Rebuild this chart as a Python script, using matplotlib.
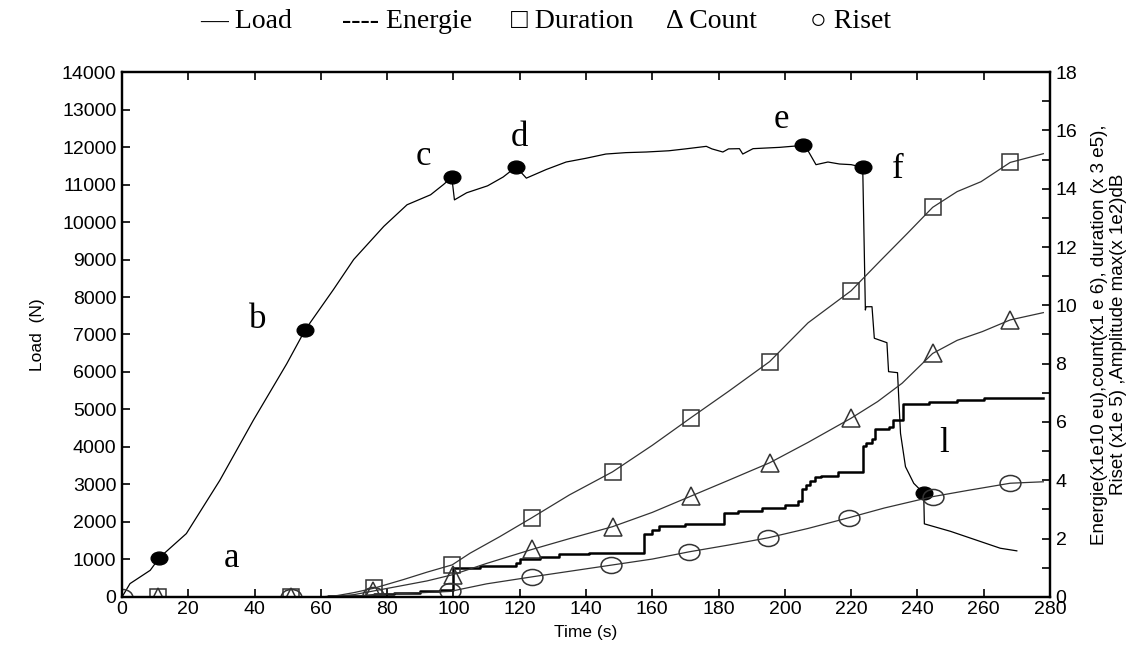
import numpy as np
import matplotlib
matplotlib.use("Agg")
import matplotlib.pyplot as plt
from matplotlib.path import Path
from matplotlib.transforms import Affine2D

# Load curve (N) vs time (s)
load_t = [0, 2.4, 8.5, 11.3, 19.4, 29.5, 39.6, 49.7, 55.3, 63.8, 69.9, 79, 86, 93.1, 97,
          99.5, 100.3, 104, 110.3, 115, 118.9, 122, 128, 134, 140, 146, 152, 158.2, 165,
          170, 176.3, 178, 181.3, 183, 186.3, 187.3, 190.4, 198.4, 205.6, 207, 209.4,
          213, 216.5, 220, 223.5, 224.3, 224.5, 226.3, 227, 230.8, 231.3, 234, 234.9,
          236.4, 238.9, 241.9, 242.1, 250, 260, 265, 270]
load_N = [0, 356, 711, 1050, 1690, 3110, 4710, 6220, 7130, 8200, 9000, 9885, 10460, 10726,
          11000, 11195, 10590, 10780, 10965, 11200, 11470, 11170, 11400, 11600, 11700,
          11813, 11850, 11867, 11900, 11950, 12018, 11950, 11867, 11950, 11956, 11813,
          11956, 11991, 12044, 11900, 11529, 11600, 11547, 11530, 11460, 7653, 7740,
          7741, 6900, 6782, 6009, 5982, 4365, 3475, 3031, 2765, 1950, 1750, 1450, 1300,
          1230]
load_marks = [11.3, 55.3, 99.5, 118.9, 205.6, 223.5, 241.9]

# Energie (x1e10 eu), step curve
en_t = [0, 62, 70, 76, 82, 90, 96, 100, 108, 119, 120.2, 126, 132, 141, 150, 157.5, 160,
        162, 170, 181.5, 186, 193, 200, 204, 205.2, 206.5, 207.7, 209, 211, 216, 223.7,
        224.5, 226.2, 227.2, 231.5, 232.5, 235.8, 243.5, 252, 260, 278]
en_v = [0, 0.02, 0.05, 0.1, 0.15, 0.2, 0.25, 1.0, 1.05, 1.18, 1.29, 1.38, 1.46, 1.5,
        1.51, 2.15, 2.3, 2.43, 2.5, 2.87, 2.95, 3.06, 3.15, 3.29, 3.69, 3.85, 3.98,
        4.1, 4.15, 4.3, 5.18, 5.27, 5.41, 5.75, 5.84, 6.07, 6.6, 6.7, 6.76, 6.81, 6.82]

# Duration (x 3e5)
dur_t = [0, 11, 51, 60, 65, 70, 76, 85, 92, 99.6, 105, 114, 123.7, 135, 148, 160, 171.7,
         183, 195.4, 207, 220, 229, 237, 244.6, 252, 259.2, 268, 278]
dur_v = [0, 0, 0, 0, 0.05, 0.15, 0.3, 0.6, 0.85, 1.1, 1.5, 2.07, 2.72, 3.5, 4.29, 5.2,
         6.15, 7.05, 8.07, 9.4, 10.5, 11.55, 12.47, 13.36, 13.9, 14.24, 14.9, 15.2]
dur_marks = [11, 51, 76, 99.6, 123.7, 148, 171.7, 195.4, 220, 244.6, 268]

# Count (x1e6)
cnt_t = [0, 11, 51, 60, 65, 70, 75.6, 85, 92, 100, 110, 123.7, 135, 148, 160, 171.7, 183,
         195.4, 207, 220, 228, 235.4, 244.6, 252, 259.6, 268, 278]
cnt_v = [0, 0, 0, 0, 0.03, 0.08, 0.2, 0.4, 0.55, 0.77, 1.15, 1.63, 2.0, 2.41, 2.9, 3.46,
         4.0, 4.6, 5.3, 6.13, 6.7, 7.33, 8.35, 8.8, 9.1, 9.5, 9.75]
cnt_marks = [11, 51, 75.6, 100, 123.7, 148, 171.7, 195.4, 220, 244.6, 268]

# Riset (x1e5)
ris_t = [0, 11, 51, 60, 70, 75.6, 85, 99, 110, 123.7, 135, 147.5, 160, 171.2, 183, 195,
         207, 219.4, 230, 244.6, 255, 268, 278]
ris_v = [0, 0, 0, 0, 0.03, 0.08, 0.12, 0.19, 0.45, 0.69, 0.88, 1.09, 1.3, 1.55, 1.78,
         2.03, 2.35, 2.72, 3.05, 3.44, 3.65, 3.9, 3.95]
ris_marks = [0, 51, 75.6, 99, 123.7, 147.5, 171.2, 195, 219.4, 244.6, 268]

# point labels
lab_txt = ["a", "b", "c", "d", "e", "f", "l"]
lab_t = [33, 41, 91, 120, 199, 234, 248]
lab_N = [1030, 7400, 11750, 12250, 12730, 11400, 4100]


def idx(t, marks):
    return [i for i, x in enumerate(t) if x in marks]


# slightly flattened circle, like the original marks
ellipse = Path.unit_circle().transformed(Affine2D().scale(1.3, 1.0))

plt.rcParams['font.family'] = ['Liberation Sans', 'DejaVu Sans']
serif = ['Liberation Serif', 'DejaVu Serif']

fig = plt.figure(figsize=(11.47, 6.53), dpi=100)
ax = fig.add_axes([0.1064, 0.0858, 0.8090, 0.8039])
ax2 = ax.twinx()

ax.plot(load_t, load_N, color='black', lw=0.9, marker=ellipse, ms=12, mfc='black', mec='black',
        markevery=idx(load_t, load_marks), zorder=5)
ax2.plot(en_t, en_v, color='black', lw=1.8, drawstyle='steps-post')
ax2.plot(dur_t, dur_v, color='#333333', lw=0.9, marker='s', ms=11, mfc='none', mec='#333333',
         mew=1.1, markevery=idx(dur_t, dur_marks))
ax2.plot(cnt_t, cnt_v, color='#333333', lw=0.9, marker='^', ms=13, mfc='none', mec='#333333',
         mew=1.1, markevery=idx(cnt_t, cnt_marks))
ax2.plot(ris_t, ris_v, color='#333333', lw=0.9, marker=ellipse, ms=15, mfc='none', mec='#333333',
         mew=1.1, markevery=idx(ris_t, ris_marks))

for s, x, y in zip(lab_txt, lab_t, lab_N):
    ax.text(x, y, s, family=serif, fontsize=25, ha='center', va='center')

ax.set_xlim(0, 280)
ax.set_ylim(0, 14000)
ax2.set_ylim(0, 18)
ax.set_xticks(np.arange(0, 281, 20))
ax.set_yticks(np.arange(0, 14001, 1000))
ax2.set_yticks(np.arange(0, 19, 2))
ax2.set_yticks(np.arange(1, 18, 2), minor=True)

ax.tick_params(axis='both', direction='in', length=6, width=1.2, labelsize=14, top=True)
ax.tick_params(axis='x', pad=3)
ax.tick_params(axis='y', pad=4)
ax2.tick_params(axis='y', which='both', direction='in', length=6, width=1.2, labelsize=14,
                pad=4)
for a in (ax, ax2):
    for sp in a.spines.values():
        sp.set_linewidth(1.6)

ax.set_xlabel('Time (s)', fontsize=12.5, labelpad=5)
ax.set_ylabel('Load  (N)', fontsize=12.5, labelpad=12)
ax2.set_ylabel('Energie(x1e10 eu),count(x1 e 6), duration (x 3 e5),\n'
               'Riset (x1e 5) ,Amplitude max(x 1e2)dB',
               family=['Liberation Sans Narrow', 'Liberation Sans', 'DejaVu Sans'],
               fontsize=13.5, labelpad=10, linespacing=1.15)

# legend line on top, typographic as in the original
leg_txt = ["\u2014 Load", "---- Energie", "\u25a1 Duration", "\u0394 Count", "\u25cb Riset"]
leg_x = [200, 342, 511, 666, 810]
for s, x in zip(leg_txt, leg_x):
    fig.text(x / 1147, 1 - 21 / 653, s, family=serif, fontsize=20, ha='left', va='center')

fig.savefig('out.png', dpi=100)
